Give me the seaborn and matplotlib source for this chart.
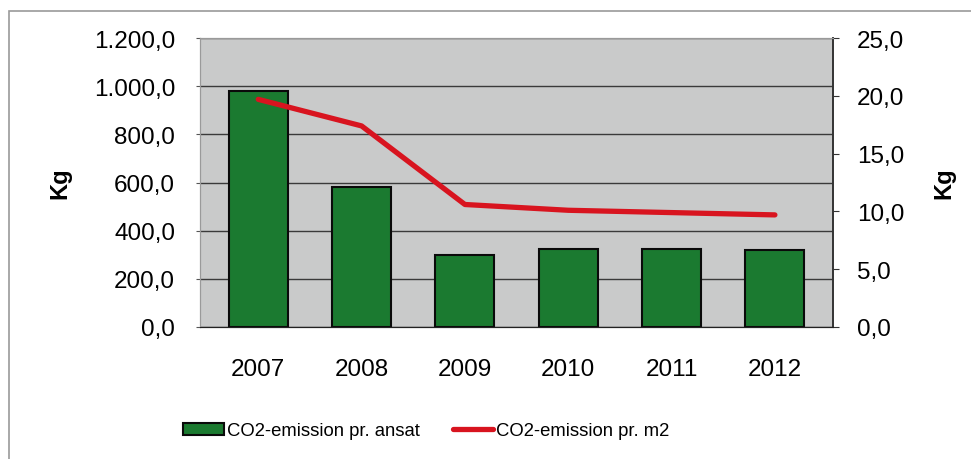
import numpy as np
import pandas as pd
import seaborn as sns
import matplotlib.pyplot as plt
from matplotlib.patches import Rectangle
from matplotlib.ticker import FuncFormatter, MultipleLocator

# Data
years = ["2007", "2008", "2009", "2010", "2011", "2012"]
per_employee = [980.0, 580.0, 300.0, 325.0, 322.0, 320.0]
per_m2 = [19.7, 17.4, 10.6, 10.1, 9.9, 9.7]

df = pd.DataFrame({"year": years, "ansat": per_employee, "m2": per_m2})

sns.set_style("white")
plt.rcParams["font.family"] = ["Liberation Sans", "DejaVu Sans"]
plt.rcParams["text.color"] = "black"
plt.rcParams["xtick.color"] = "black"
plt.rcParams["ytick.color"] = "black"
plt.rcParams["axes.labelcolor"] = "black"


def dk_fmt(v, pos):
    s = f"{v:,.1f}"
    return s.replace(",", "X").replace(".", ",").replace("X", ".")


fig = plt.figure(figsize=(9.71, 4.60), dpi=100)
ax = fig.add_axes([0.206, 0.287, 0.652, 0.628])
ax.set_facecolor("#c9caca")

sns.barplot(ax=ax, data=df, x="year", y="ansat", color="#1b7a30",
            width=0.57, edgecolor="#0a0a0a", linewidth=1.5, saturation=1,
            label="CO2-emission pr. ansat", zorder=3)
ax.set_ylim(0, 1200)
ax.yaxis.set_major_locator(MultipleLocator(200))
ax.yaxis.set_major_formatter(FuncFormatter(dk_fmt))
ax.grid(axis="y", color="#3a3a3a", linewidth=1.0, zorder=0)
ax.set_axisbelow(True)
ax.set_xlabel("")
ax.set_ylabel("Kg", fontsize=17, fontweight="bold", labelpad=16)
ax.tick_params(axis="x", labelsize=17.5, pad=22, length=0)
ax.tick_params(axis="y", labelsize=17.5, pad=15, length=3, left=True, color="#555555")

ax2 = ax.twinx()
sns.lineplot(ax=ax2, data=df, x="year", y="m2", color="#d8141f",
             linewidth=3.8, label="CO2-emission pr. m2", zorder=4,
             solid_capstyle="round")
ax2.set_ylim(0, 25)
ax2.yaxis.set_major_locator(MultipleLocator(5))
ax2.yaxis.set_major_formatter(FuncFormatter(dk_fmt))
ax2.set_ylabel("Kg", fontsize=17, fontweight="bold", labelpad=20)
ax2.tick_params(axis="y", labelsize=17.5, pad=13, length=4, right=True, color="#333333")
ax2.get_legend().remove()

for a in (ax, ax2):
    for side in ["top", "left"]:
        a.spines[side].set_color("#9a9a9a")
    a.spines["bottom"].set_color("#222222")
    a.spines["right"].set_color("#333333")
    a.spines["right"].set_linewidth(1.2)

h1, l1 = ax.get_legend_handles_labels()
h2, l2 = ax2.get_legend_handles_labels()
if ax.get_legend() is not None:
    ax.get_legend().remove()
fig.legend(h1 + h2, l1 + l2, loc="center", bbox_to_anchor=(0.439, 0.061),
           ncol=2, frameon=False, fontsize=13.3, handlelength=2.2,
           handleheight=0.6, handletextpad=0.15, columnspacing=1.8)

# outer chart border
fig.add_artist(Rectangle((9 / 971, -0.05), 1.1, 0.974 + 0.05,
                         transform=fig.transFigure, fill=False,
                         edgecolor="#9a9a9a", linewidth=1.2))

plt.savefig("out.png", dpi=100)
